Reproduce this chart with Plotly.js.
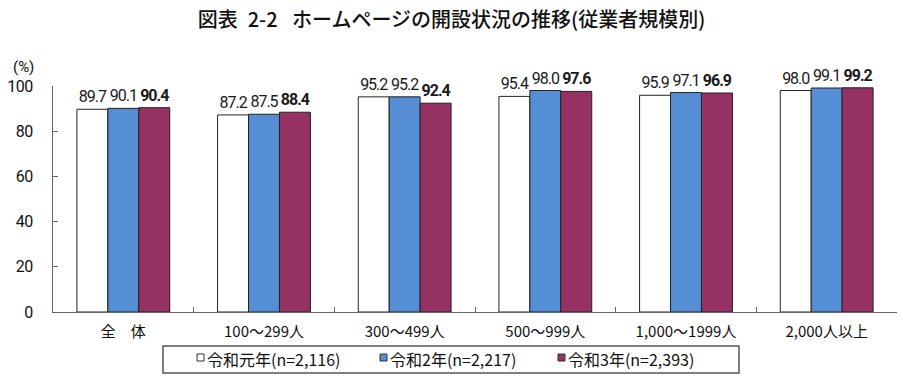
<!DOCTYPE html>
<html>
<head>
<meta charset="utf-8">
<script src="https://cdn.plot.ly/plotly-3.0.1.min.js"></script>
<style>
  html, body { margin: 0; padding: 0; background: #fff; }
  #chart { width: 903px; height: 382px; }
  /* tighten the value labels so neighbouring bars' numbers stay apart */
  #chart text.bartext { letter-spacing: -1px; }
  #chart .ytick text { letter-spacing: -0.5px; }
</style>
</head>
<body>
<div id="chart"></div>
<script>
// Employee-size categories
const categories = ["全　体", "100～299人", "300～499人", "500～999人", "1,000～1999人", "2,000人以上"];

// Share of companies with a homepage (%), by survey year
const valuesR1 = [89.7, 87.2, 95.2, 95.4, 95.9, 98.0];
const valuesR2 = [90.1, 87.5, 95.2, 98.0, 97.1, 99.1];
const valuesR3 = [90.4, 88.4, 92.4, 97.6, 96.9, 99.2];

const seriesNames = ["令和元年(n=2,116)", "令和2年(n=2,217)", "令和3年(n=2,393)"];
const seriesColors = ["#ffffff", "#558ed5", "#953163"];
const yTicks = [0, 20, 40, 60, 80, 100];

const numFont = "Roboto, 'Liberation Sans', sans-serif";
const jpFont = "'Noto Sans CJK JP', sans-serif";

const W = 903, H = 382;
const M = { l: 53, r: 6, t: 86, b: 70 };
// pixel -> paper coordinate helpers for the hand-placed legend
const px = x => (x - M.l) / (W - M.l - M.r);
const py = y => (H - M.b - y) / (H - M.t - M.b);

function barTrace(i, values, bold) {
  return {
    type: "bar",
    name: seriesNames[i],
    x: categories,
    y: values,
    marker: { color: seriesColors[i], line: { color: "#222", width: 1 } },
    text: values.map(v => v.toFixed(1)),
    textposition: "outside",
    constraintext: "none",
    cliponaxis: false,
    textfont: { family: numFont, size: 16, color: "#1a1a1a", weight: bold ? 700 : 400 },
    hoverinfo: "skip",
    showlegend: false
  };
}

const data = [
  barTrace(0, valuesR1, false),
  barTrace(1, valuesR2, false),
  barTrace(2, valuesR3, true)
];

// Legend: framed box with small square swatches followed by the series names
const legendBox = { x0: 163, x1: 739, y0: 346, y1: 373 };
const legendItems = [197, 380, 558];
const shapes = [{
  type: "rect", xref: "paper", yref: "paper",
  x0: px(legendBox.x0), x1: px(legendBox.x1),
  y0: py(legendBox.y0), y1: py(legendBox.y1),
  line: { color: "#555", width: 1.5 }, fillcolor: "rgba(0,0,0,0)"
}];
const annotations = [{
  text: "(%)",
  xref: "paper", yref: "paper",
  x: px(23), y: py(67),
  xanchor: "center", yanchor: "middle",
  showarrow: false,
  font: { family: numFont, size: 15, color: "#111" }
}];
legendItems.forEach((lx, i) => {
  shapes.push({
    type: "rect", xref: "paper", yref: "paper",
    x0: px(lx), x1: px(lx + 7), y0: py(354), y1: py(361),
    line: { color: "#333", width: 1 }, fillcolor: seriesColors[i]
  });
  annotations.push({
    text: seriesNames[i],
    xref: "paper", yref: "paper",
    x: px(lx + 8), y: py(359),
    xanchor: "left", yanchor: "middle",
    showarrow: false,
    font: { family: jpFont, size: 16, color: "#111" }
  });
});

const layout = {
  width: W,
  height: H,
  margin: M,
  paper_bgcolor: "#fff",
  plot_bgcolor: "#fff",
  barmode: "group",
  bargap: 0.34,
  bargroupgap: 0,
  showlegend: false,
  title: {
    text: "図表\u20022-2\u2002 ホームページの開設状況の推移(従業者規模別)",
    font: { family: jpFont, size: 20, color: "#111", weight: 500 },
    x: 0.5, xanchor: "center",
    y: 1 - 20 / H, yanchor: "middle"
  },
  xaxis: {
    type: "category",
    showline: true,
    linecolor: "#666",
    linewidth: 1,
    ticks: "inside",
    tickson: "boundaries",
    ticklen: 5,
    tickcolor: "#666",
    ticklabelstandoff: 6,
    showgrid: false,
    tickfont: { family: jpFont, size: 15, color: "#111" },
    fixedrange: true
  },
  yaxis: {
    range: [0, 100],
    tickvals: yTicks,
    ticktext: yTicks.map(String),
    showline: true,
    linecolor: "#666",
    linewidth: 1,
    ticks: "inside",
    ticklen: 5,
    tickcolor: "#666",
    ticklabelstandoff: 16,
    showgrid: false,
    zeroline: false,
    tickfont: { family: numFont, size: 16, color: "#111" },
    fixedrange: true
  },
  shapes: shapes,
  annotations: annotations
};

Plotly.newPlot("chart", data, layout, { displayModeBar: false, staticPlot: true });
</script>
</body>
</html>
